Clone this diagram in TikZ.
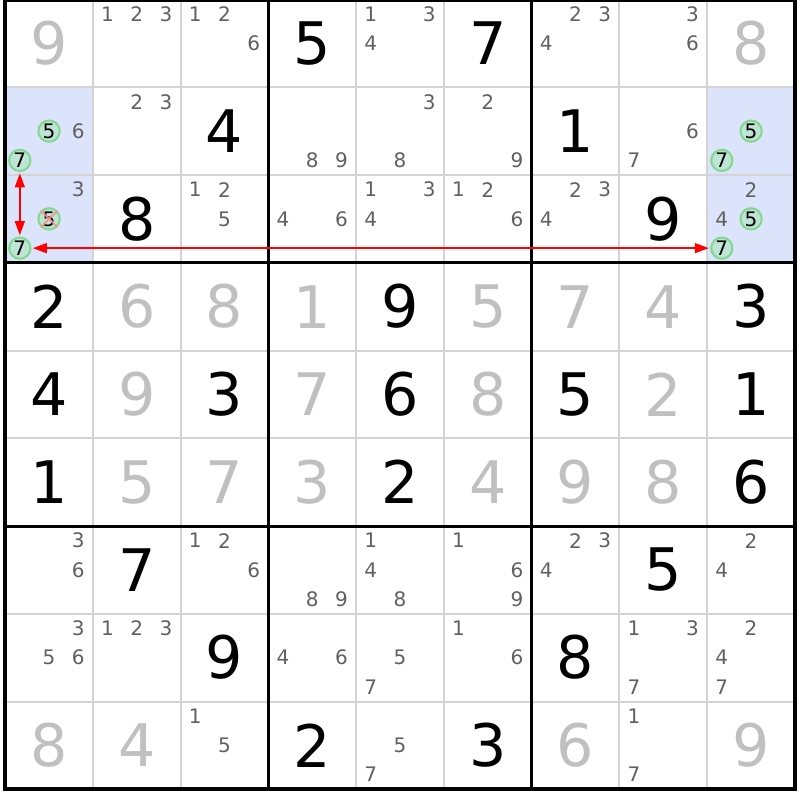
\documentclass[tikz,border=0pt]{standalone}
\usepackage{fontspec}
\setmainfont{DejaVu Sans}
\usetikzlibrary{arrows.meta,calc}

\definecolor{solvedgray}{RGB}{192,192,192}
\definecolor{candgray}{RGB}{96,96,96}
\definecolor{pairblue}{RGB}{220,228,251}
\definecolor{ringfill}{RGB}{190,228,214}
\definecolor{ringedge}{RGB}{130,216,140}
\definecolor{cellline}{RGB}{212,212,212}
\definecolor{strikered}{RGB}{255,140,140}

\newcommand{\cellsz}{87.75}

\begin{document}
\begin{tikzpicture}[x=0.75pt, y=-0.75pt,
    given/.style={font=\fontsize{44}{44}\selectfont, inner sep=0pt},
    solved/.style={given, text=solvedgray},
    cand/.style={font=\fontsize{15}{15}\selectfont, text=candgray, inner sep=0pt},
    ring/.style={circle, draw=ringedge, fill=ringfill, line width=1.5pt, minimum size=16pt, inner sep=0pt, font=\fontsize{15}{15}\selectfont, text=black},
    strike/.style={draw=strikered, line width=1.5pt, opacity=0.85},
    link/.style={draw=red, line width=1.1pt, {Triangle[length=10.5pt,width=7.5pt]}-{Triangle[length=10.5pt,width=7.5pt]}, shorten <=1pt, shorten >=1pt},
    thinline/.style={draw=cellline, line width=1.5pt},
    boxline/.style={draw=black, line width=2.25pt}]
    \useasboundingbox (0,0) rectangle (800,800);

    % Cells
    \foreach \r in {1,...,9}
        \foreach \c in {1,...,9}
            \coordinate (cell\r\c) at ({5.2+(\c-0.5)*\cellsz}, {-0.5+(\r-0.5)*\cellsz});
    \foreach \r/\c in {2/1, 3/1, 2/9, 3/9}
        \fill[pairblue] (cell\r\c) ++(-43.875,-43.875) rectangle ++(\cellsz,\cellsz);

    % Grid
    \foreach \i in {1,2,4,5,7,8} {
        \draw[thinline] ({5.2+\i*\cellsz},-0.5) -- ++(0,9*\cellsz);
        \draw[thinline] (5.2,{-0.5+\i*\cellsz}) -- ++(9*\cellsz,0);
    }
    \foreach \i in {3,6} {
        \draw[boxline] ({5.2+\i*\cellsz},-0.5) -- ++(0,9*\cellsz);
        \draw[boxline] (5.2,{-0.5+\i*\cellsz}) -- ++(9*\cellsz,0);
    }
    \draw[boxline, line width=3pt] (5.2,-0.5) rectangle ++(9*\cellsz,9*\cellsz);

    % Given digits
    \foreach \r/\c/\d in {1/4/5, 1/6/7, 2/3/4, 2/7/1, 3/2/8, 3/8/9, 4/1/2, 4/5/9, 4/9/3,
                          5/1/4, 5/3/3, 5/5/6, 5/7/5, 5/9/1, 6/1/1, 6/5/2, 6/9/6,
                          7/2/7, 7/8/5, 8/3/9, 8/7/8, 9/4/2, 9/6/3}
        \node[given] (n\r\c) at (cell\r\c) {\d};

    % Solved digits
    \foreach \r/\c/\d in {1/1/9, 1/9/8, 4/2/6, 4/3/8, 4/4/1, 4/6/5, 4/7/7, 4/8/4,
                          5/2/9, 5/4/7, 5/6/8, 5/8/2, 6/2/5, 6/3/7, 6/4/3, 6/6/4, 6/7/9, 6/8/8,
                          9/1/8, 9/2/4, 9/7/6, 9/9/9}
        \node[solved] (n\r\c) at (cell\r\c) {\d};

    % Candidates
    \foreach \r/\c/\ds in {1/2/{1,2,3}, 1/3/{1,2,6}, 1/5/{1,3,4}, 1/7/{2,3,4}, 1/8/{3,6},
                           2/1/{6}, 2/2/{2,3}, 2/4/{8,9}, 2/5/{3,8}, 2/6/{2,9}, 2/8/{6,7},
                           3/1/{3}, 3/3/{1,2,5}, 3/4/{4,6}, 3/5/{1,3,4}, 3/6/{1,2,6}, 3/7/{2,3,4}, 3/9/{2,4},
                           7/1/{3,6}, 7/3/{1,2,6}, 7/4/{8,9}, 7/5/{1,4,8}, 7/6/{1,6,9}, 7/7/{2,3,4}, 7/9/{2,4},
                           8/1/{3,5,6}, 8/2/{1,2,3}, 8/4/{4,6}, 8/5/{5,7}, 8/6/{1,6}, 8/8/{1,3,7}, 8/9/{2,4,7},
                           9/3/{1,5}, 9/5/{5,7}, 9/8/{1,7}}
        \foreach \d in \ds {
            \pgfmathsetmacro\dx{(2*mod(\d-1,3)-2)*\cellsz/6}
            \pgfmathsetmacro\dy{(2*floor((\d-1)/3)-2)*\cellsz/6}
            \node[cand] (k\r\c-\d) at ($(cell\r\c)+(\dx,\dy)$) {\d};
        }

    % Chain candidates
    \foreach \r/\c/\d in {2/1/5, 2/1/7, 2/9/5, 2/9/7, 3/1/5, 3/1/7, 3/9/5, 3/9/7} {
        \pgfmathsetmacro\dx{(2*mod(\d-1,3)-2)*\cellsz/6}
        \pgfmathsetmacro\dy{(2*floor((\d-1)/3)-2)*\cellsz/6}
        \node[ring] (k\r\c-\d) at ($(cell\r\c)+(\dx,\dy)$) {\d};
    }
    \draw[strike] (k31-5.north west) -- (k31-5.south east)
                  (k31-5.north east) -- (k31-5.south west);

    % Links
    \draw[link] (k21-7) -- (k31-7);
    \draw[link] (k31-7) -- (k39-7);
\end{tikzpicture}
\end{document}
